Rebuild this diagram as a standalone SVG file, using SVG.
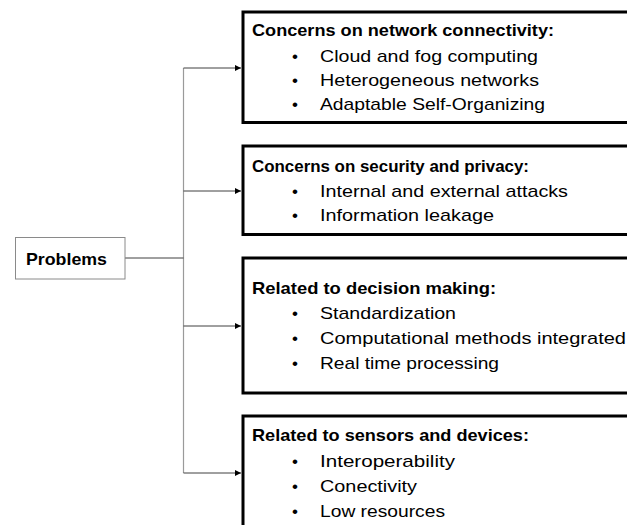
<svg xmlns="http://www.w3.org/2000/svg" width="627" height="525" viewBox="0 0 627 525">
  <style>
    .box { fill: #ffffff; stroke: #000000; stroke-width: 3; }
    .root { fill: #ffffff; stroke: #8a8a8a; stroke-width: 1; }
    .title { font-family: "Liberation Sans", Arial, sans-serif; font-weight: bold; font-size: 17px; fill: #000; }
    .item { font-family: "Liberation Sans", Arial, sans-serif; font-size: 17px; fill: #000; }
    .bul { font-family: "Liberation Sans", Arial, sans-serif; font-size: 17px; fill: #000; }
    .conn { fill: none; stroke: #404040; stroke-width: 1; }
    .trunk { fill: none; stroke: #9a9a9a; stroke-width: 1.2; }
  </style>
  <defs>
    <marker id="arr" markerWidth="6" markerHeight="6" refX="6" refY="3" orient="auto" markerUnits="userSpaceOnUse">
      <path d="M0,0 L6,3 L0,6 Z" fill="#000"/>
    </marker>
  </defs>
  <rect width="627" height="525" fill="#ffffff"/>

  <g id="connectors">
    <line class="trunk" x1="183.5" y1="68" x2="183.5" y2="473"/>
    <line class="conn" x1="125" y1="258" x2="183.5" y2="258"/>
    <line class="conn" x1="183.5" y1="68" x2="241" y2="68" marker-end="url(#arr)"/>
    <line class="conn" x1="183.5" y1="191" x2="241" y2="191" marker-end="url(#arr)"/>
    <line class="conn" x1="183.5" y1="326" x2="241" y2="326" marker-end="url(#arr)"/>
    <line class="conn" x1="183.5" y1="473" x2="241" y2="473" marker-end="url(#arr)"/>
  </g>

  <g id="problems">
    <rect class="root" x="15.5" y="237.5" width="109.5" height="41.5"/>
    <text class="title" x="26" y="265" textLength="81" lengthAdjust="spacingAndGlyphs">Problems</text>
  </g>

  <g id="network">
    <rect class="box" x="243" y="12" width="420" height="110.5"/>
    <text class="title" x="252" y="36" textLength="302" lengthAdjust="spacingAndGlyphs">Concerns on network connectivity:</text>
    <text class="bul" x="292" y="62">•</text>
    <text class="item" x="320" y="62" textLength="218" lengthAdjust="spacingAndGlyphs">Cloud and fog computing</text>
    <text class="bul" x="292" y="86">•</text>
    <text class="item" x="320" y="86" textLength="219" lengthAdjust="spacingAndGlyphs">Heterogeneous networks</text>
    <text class="bul" x="292" y="110">•</text>
    <text class="item" x="320" y="110" textLength="225" lengthAdjust="spacingAndGlyphs">Adaptable Self-Organizing</text>
  </g>

  <g id="security">
    <rect class="box" x="243" y="146" width="420" height="88.5"/>
    <text class="title" x="252" y="172" textLength="277" lengthAdjust="spacingAndGlyphs">Concerns on security and privacy:</text>
    <text class="bul" x="292" y="197">•</text>
    <text class="item" x="320" y="197" textLength="248" lengthAdjust="spacingAndGlyphs">Internal and external attacks</text>
    <text class="bul" x="292" y="221">•</text>
    <text class="item" x="320" y="221" textLength="174" lengthAdjust="spacingAndGlyphs">Information leakage</text>
  </g>

  <g id="decision">
    <rect class="box" x="243" y="258" width="420" height="135"/>
    <text class="title" x="252" y="294" textLength="244" lengthAdjust="spacingAndGlyphs">Related to decision making:</text>
    <text class="bul" x="292" y="319">•</text>
    <text class="item" x="320" y="319" textLength="136" lengthAdjust="spacingAndGlyphs">Standardization</text>
    <text class="bul" x="292" y="344">•</text>
    <text class="item" x="320" y="344" textLength="306" lengthAdjust="spacingAndGlyphs">Computational methods integrated</text>
    <text class="bul" x="292" y="369">•</text>
    <text class="item" x="320" y="369" textLength="179" lengthAdjust="spacingAndGlyphs">Real time processing</text>
  </g>

  <g id="sensors">
    <rect class="box" x="243" y="416" width="420" height="130"/>
    <text class="title" x="252" y="441" textLength="277" lengthAdjust="spacingAndGlyphs">Related to sensors and devices:</text>
    <text class="bul" x="292" y="467">•</text>
    <text class="item" x="320" y="467" textLength="135" lengthAdjust="spacingAndGlyphs">Interoperability</text>
    <text class="bul" x="292" y="492">•</text>
    <text class="item" x="320" y="492" textLength="97" lengthAdjust="spacingAndGlyphs">Conectivity</text>
    <text class="bul" x="292" y="517">•</text>
    <text class="item" x="320" y="517" textLength="125" lengthAdjust="spacingAndGlyphs">Low resources</text>
  </g>
</svg>
